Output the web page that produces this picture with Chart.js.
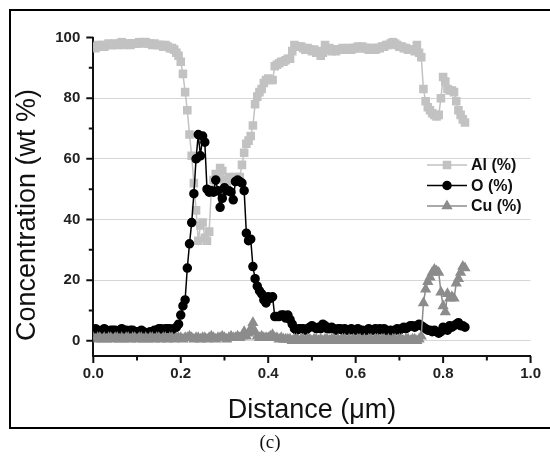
<!DOCTYPE html>
<html>
<head>
<meta charset="utf-8">
<script src="https://cdn.jsdelivr.net/npm/chart.js"></script>
<style>
  body { margin: 0; background: #fff; }
  #wrap { position: relative; width: 550px; height: 461px; overflow: hidden; }
  #lineChart { position: absolute; left: 0; top: 0; }
  .frame { position: absolute; left: 9px; top: 9px; width: 600px; height: 420px; box-sizing: border-box;
           border: 2px solid #000; border-right: none; pointer-events: none; }
  .cap { position: absolute; left: 0; width: 540px; top: 431px; text-align: center;
         font-family: "Liberation Serif", "DejaVu Serif", serif; font-size: 19px; color: #111; }
</style>
</head>
<body>
<div id="wrap">
  <canvas id="lineChart" width="550" height="461"></canvas>
  <div class="frame"></div>
  <div class="cap">(c)</div>
</div>
<script>
const distance = [
  0, 0.005, 0.01, 0.015, 0.02, 0.025, 0.03, 0.035, 0.04, 0.045,
  0.05, 0.055, 0.06, 0.065, 0.07, 0.075, 0.08, 0.085, 0.09, 0.095,
  0.1, 0.105, 0.11, 0.115, 0.12, 0.125, 0.13, 0.135, 0.14, 0.145,
  0.15, 0.155, 0.16, 0.165, 0.17, 0.175, 0.18, 0.185, 0.19, 0.195,
  0.2, 0.205, 0.21, 0.215, 0.22, 0.225, 0.23, 0.235, 0.24, 0.245,
  0.25, 0.255, 0.26, 0.265, 0.27, 0.275, 0.28, 0.285, 0.29, 0.295,
  0.3, 0.305, 0.31, 0.315, 0.32, 0.325, 0.33, 0.335, 0.34, 0.345,
  0.35, 0.355, 0.36, 0.365, 0.37, 0.375, 0.38, 0.385, 0.39, 0.395,
  0.4, 0.405, 0.41, 0.415, 0.42, 0.425, 0.43, 0.435, 0.44, 0.445,
  0.45, 0.455, 0.46, 0.465, 0.47, 0.475, 0.48, 0.485, 0.49, 0.495,
  0.5, 0.505, 0.51, 0.515, 0.52, 0.525, 0.53, 0.535, 0.54, 0.545,
  0.55, 0.555, 0.56, 0.565, 0.57, 0.575, 0.58, 0.585, 0.59, 0.595,
  0.6, 0.605, 0.61, 0.615, 0.62, 0.625, 0.63, 0.635, 0.64, 0.645,
  0.65, 0.655, 0.66, 0.665, 0.67, 0.675, 0.68, 0.685, 0.69, 0.695,
  0.7, 0.705, 0.71, 0.715, 0.72, 0.725, 0.73, 0.735, 0.74, 0.745,
  0.75, 0.755, 0.76, 0.765, 0.77, 0.775, 0.78, 0.785, 0.79, 0.795,
  0.8, 0.805, 0.81, 0.815, 0.82, 0.825, 0.83, 0.835, 0.84, 0.845, 0.85
];

const alValues = [
  97, 96.5, 97.5, 97, 97.5, 97, 97.5, 98, 97.5, 97.5,
  98, 97.5, 98, 98.5, 97.5, 98, 98, 97.5, 98, 98,
  98, 98.5, 98, 98.5, 98.5, 98, 98, 97.5, 98, 97.5,
  97.5, 97.5, 97, 97.5, 97, 96.5, 96.5, 96, 95, 94,
  92, 88, 82, 76, 68, 61, 52, 43, 33, 38,
  39, 34, 33, 36, 50, 53, 55, 54, 57, 56,
  53, 52, 54, 53, 53, 54, 53, 54, 58, 62,
  65, 66, 67.5, 71, 78, 80.5, 82, 83, 85, 86,
  86.5, 86, 86, 90.5, 91, 91.5, 92, 92, 92.5, 93,
  93, 95.5, 97.5, 97, 97, 97, 96.5, 96, 96.5, 96,
  95.5, 96, 95, 95.5, 94, 95, 97.5, 96, 96.5, 95.5,
  96, 95.5, 96, 96, 96.5, 96, 96, 96.5, 96, 96.5,
  96.5, 97, 96.5, 97, 96.5, 96.5, 96, 96.5, 96.5, 96,
  96.5, 96.5, 97, 97, 97.5, 97.5, 98, 98.5, 98, 97.5,
  97, 97, 96.5, 96.5, 96, 96, 96, 95.5, 97.5, 95,
  93.5, 83, 79, 77, 76, 75, 74.5, 74, 74.5, 80,
  87, 85.5, 83, 82.5, 82.5, 82, 79, 76, 74.5, 73, 72
];

const oValues = [
  3.5, 4, 3.5, 3, 3.5, 4, 3.5, 3, 3.5, 3.5,
  3.5, 3, 3.5, 4, 3.5, 3.5, 3, 3.5, 3.5, 3,
  3, 3, 3.5, 3, 2.5, 2.5, 3, 3, 3.5, 3.5,
  4, 4, 3.5, 4, 4, 4, 3.5, 4, 4.5, 5.5,
  8.5, 11.5, 13.5, 24, 32, 39, 48.5, 60, 68, 61,
  67.5, 65.5, 50, 49, 49.5, 49, 53, 49.5, 44, 47,
  50.5, 49.5, 49.5, 49, 46.5, 52.5, 53, 52.5, 52, 49.5,
  35.5, 33, 33.5, 24.5, 20.5, 18, 16.5, 15.5, 13.5, 12.5,
  14.5, 14, 14.5, 8, 8, 8, 8.5, 8.5, 7.5, 8.5,
  7, 5.5, 4, 3.5, 4, 4, 4, 3.5, 4, 4.5,
  5, 4.5, 4, 4.5, 4, 5.5, 5, 4, 4, 4.5,
  4, 3.5, 4, 4, 3.5, 4, 3.5, 3.5, 4, 3.5,
  3.5, 4, 3.5, 3.5, 3, 3.5, 4, 3.5, 3.5, 4,
  3.5, 4, 3.5, 4, 3.5, 3, 3.5, 3, 3.5, 4,
  3.5, 4, 4.5, 4, 4.5, 5, 5, 4.5, 5, 5.5,
  5, 4.5, 4, 3.5, 3.5, 3, 3.5, 3, 2.5, 3,
  4.5, 4, 3.5, 5, 4.5, 5, 5.5, 6, 5, 5, 4.5
];

const cuValues = [
  1, 0.5, 1, 1, 0.5, 1, 0.5, 1, 1, 0.5,
  1, 1, 0.5, 1, 0.5, 1, 1, 0.5, 1, 1,
  0.5, 1, 1, 0.5, 1, 0.5, 1, 1, 0.5, 1,
  1, 0.5, 1, 1, 0.5, 1, 1, 0.5, 1, 1,
  1, 0.5, 1, 1, 1.5, 1, 0.5, 1, 1, 0.5,
  1, 1, 0.5, 1, 1.5, 1, 0.5, 1, 1, 1.5,
  1, 0.5, 1, 1.5, 1, 1, 1.5, 1, 1.5, 3,
  1.5, 2.5, 4, 6, 3, 1.5, 1, 1.5, 1, 1,
  1, 1.5, 2, 1, 1, 0.5, 1, 0.5, 0.5, 0.5,
  0.5, 0, 0.5, 0.5, 0, 0.5, 0.5, 0, 0.5, 0.5,
  0, 0.5, 0.5, 0, 0.5, 0, 0.5, 0.5, 0, 0.5,
  0.5, 0, 0.5, 0, 0.5, 0.5, 0, 0.5, 0, 0.5,
  0, 0.5, 0.5, 0, 0.5, 0, 0.5, 0.5, 0, 0.5,
  0.5, 0, 0.5, 0.5, 0, 0.5, 0, 0.5, 0.5, 0,
  0.5, 0.5, 0, 0.5, 0.5, 0, 0.5, 0.5, 0, 0.5,
  1.5, 12.5, 17, 19.5, 21, 22.5, 23.5, 23, 22.5, 16,
  11.5, 9.5, 15.5, 14, 14.5, 14, 19, 20.5, 22.5, 24.5, 24
];

const seriesNames = ["Al (%)", "O (%)", "Cu (%)"];
const xTickValues = [0, 0.2, 0.4, 0.6, 0.8, 1.0];
const xMinorTicks = [0.1, 0.3, 0.5, 0.7, 0.9];
const yTickValues = [0, 20, 40, 60, 80, 100];
const yMinorTicks = [10, 30, 50, 70, 90];

const FONT = "'Liberation Sans', Arial, sans-serif";
Chart.defaults.font.family = FONT;

function toPoints(vals) {
  return distance.map((d, i) => ({ x: d, y: vals[i] }));
}

// outward major/minor tick marks, Origin style
const tickMarks = {
  id: "tickMarks",
  afterDraw(chart) {
    const ctx = chart.ctx;
    const xs = chart.scales.x, ys = chart.scales.y;
    const bottom = chart.chartArea.bottom, left = chart.chartArea.left;
    ctx.save();
    ctx.strokeStyle = "#111";
    ctx.lineWidth = 2;
    ctx.beginPath();
    xTickValues.forEach((v) => { const p = xs.getPixelForValue(v); ctx.moveTo(p, bottom); ctx.lineTo(p, bottom + 7); });
    xMinorTicks.forEach((v) => { const p = xs.getPixelForValue(v); ctx.moveTo(p, bottom); ctx.lineTo(p, bottom + 4.5); });
    yTickValues.forEach((v) => { const p = ys.getPixelForValue(v); ctx.moveTo(left, p); ctx.lineTo(left - 7, p); });
    yMinorTicks.forEach((v) => { const p = ys.getPixelForValue(v); ctx.moveTo(left, p); ctx.lineTo(left - 4.5, p); });
    ctx.stroke();

    // y axis title
    ctx.fillStyle = "#111";
    ctx.font = "27px " + FONT;
    ctx.textAlign = "center";
    ctx.textBaseline = "middle";
    ctx.translate(28, 215);
    ctx.rotate(-Math.PI / 2);
    ctx.fillText("Concentration (wt %)", 0, 0);
    ctx.restore();
  }
};

// legend inside the plot
const boxLegend = {
  id: "boxLegend",
  afterDraw(chart) {
    const ctx = chart.ctx;
    const rows = [165, 185.5, 206];
    ctx.save();
    chart.data.datasets.forEach((ds, i) => {
      const y = rows[i];
      ctx.strokeStyle = ds.borderColor;
      ctx.lineWidth = 1.5;
      ctx.beginPath();
      ctx.moveTo(427, y);
      ctx.lineTo(467, y);
      ctx.stroke();
      ctx.fillStyle = ds.pointBackgroundColor;
      Chart.helpers.drawPoint(ctx, { pointStyle: ds.pointStyle, radius: ds.pointRadius, borderWidth: 1, rotation: 0 }, 447, y);
      ctx.fill();
      ctx.fillStyle = "#111";
      ctx.font = "bold 16px " + FONT;
      ctx.textAlign = "left";
      ctx.textBaseline = "middle";
      ctx.fillText(seriesNames[i], 471, y + 1);
    });
    ctx.restore();
  }
};

const ctx = document.getElementById("lineChart");
const myChart = new Chart(ctx, {
  type: "line",
  data: {
    datasets: [
      {
        label: seriesNames[0],
        data: toPoints(alValues),
        borderColor: "#c2c2c2",
        backgroundColor: "#c2c2c2",
        pointBackgroundColor: "#c2c2c2",
        pointBorderColor: "#c2c2c2",
        pointStyle: "rect",
        pointRadius: 5,
        borderWidth: 1.5,
        order: 2,
      },
      {
        label: seriesNames[1],
        data: toPoints(oValues),
        borderColor: "#000000",
        backgroundColor: "#000000",
        pointBackgroundColor: "#000000",
        pointBorderColor: "#000000",
        pointStyle: "circle",
        pointRadius: 4,
        borderWidth: 1.5,
        order: 1,
      },
      {
        label: seriesNames[2],
        data: toPoints(cuValues),
        borderColor: "#8c8c8c",
        backgroundColor: "#8c8c8c",
        pointBackgroundColor: "#8c8c8c",
        pointBorderColor: "#8c8c8c",
        pointStyle: "triangle",
        pointRadius: 5,
        borderWidth: 1.5,
        order: 0,
      },
    ],
  },
  options: {
    responsive: false,
    animation: false,
    devicePixelRatio: 1,
    layout: { padding: { left: 12, right: 13.5, top: 37.5, bottom: 33 } },
    plugins: { legend: { display: false }, tooltip: { enabled: false } },
    scales: {
      x: {
        type: "linear",
        min: 0,
        max: 1,
        grid: { display: false, drawTicks: false },
        border: { display: true, color: "#111", width: 2 },
        afterBuildTicks: (scale) => { scale.ticks = xTickValues.map((v) => ({ value: v })); },
        afterFit: (scale) => { scale.height = 72; },
        ticks: {
          padding: 9,
          color: "#222",
          font: { size: 15, weight: "bold" },
          maxRotation: 0,
          callback: (v) => Number(v).toFixed(1),
        },
        title: {
          display: true,
          text: "Distance (\u03bcm)",
          color: "#111",
          font: { size: 27 },
          padding: { top: 0, bottom: 1 },
        },
      },
      y: {
        min: -5,
        max: 100,
        grid: {
          drawTicks: false,
          color: (c) => (c.tick && c.tick.value < 100 ? "#d6d6d6" : "rgba(0,0,0,0)"),
          lineWidth: 1,
        },
        border: { display: true, color: "#111", width: 2 },
        afterBuildTicks: (scale) => { scale.ticks = yTickValues.map((v) => ({ value: v })); },
        afterFit: (scale) => { scale.width = 81.3; },
        ticks: {
          padding: 13,
          color: "#222",
          font: { size: 15, weight: "bold" },
        },
      },
    },
  },
  plugins: [tickMarks, boxLegend],
});
</script>
</body>
</html>
